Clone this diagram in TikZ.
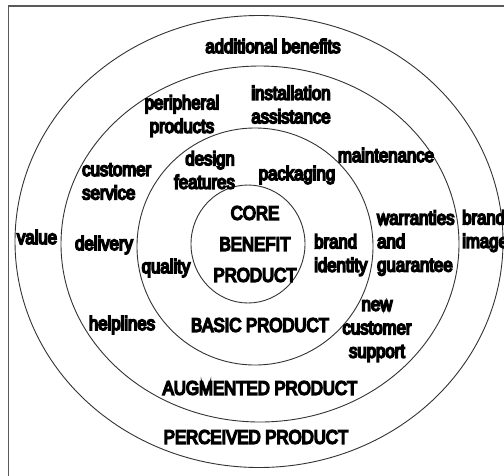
\documentclass[tikz,border=0pt]{standalone}
\usepackage{fontspec}
\setmainfont{Liberation Sans}[FakeStretch=0.86,FakeBold=8]
\usetikzlibrary{shapes.geometric}
\tikzset{
  ring/.style={ellipse, draw=black!80, line width=0.9pt, inner sep=0pt, fill=none},
  lbl/.style={inner sep=0pt, align=center, text=black, font=\fontsize{19.5}{23.5}\selectfont},
  lbll/.style={lbl, align=left},
  lblr/.style={lbl, align=right},
  core/.style={inner sep=0pt, align=center, text=black, font=\fontsize{19.5}{31}\selectfont},
  frame/.style={draw=black!65, line width=1.5pt}
}
\begin{document}
\begin{tikzpicture}[x=1pt,y=-1pt]
\useasboundingbox (0,0) rectangle (504,475);
\clip (0,0) rectangle (504,475);
\fill[white] (0,0) rectangle (504,475);
\draw[frame] (8.5,480) -- (8.5,6) -- (510,6);
% rings
\node[ring, minimum width=488pt, minimum height=452pt] (perceived) at (259,241.5) {};
\node[ring, minimum width=398pt, minimum height=356pt] (augmented) at (260,244) {};
\node[ring, minimum width=236pt, minimum height=237pt] (basic) at (255,246.5) {};
\node[ring, minimum width=114pt, minimum height=118pt] (corering) at (248,244) {};
% labels
\node[lbl] (addben) at (273,46) {additional benefits};
\node[lbl] (periph) at (182,116) {peripheral\\products};
\node[lbl] (install) at (291,104.5) {installation\\assistance};
\node[lbl] (maint) at (386,155) {maintenance};
\node[lbll, anchor=west] (custserv) at (82,181.5) {customer\\service};
\node[lblr, anchor=east] (design) at (235,170) {design\\features};
\node[lbl] (pack) at (297,175) {packaging};
\node[lbl] (value) at (37,237) {value};
\node[lbl] (deliv) at (104,245) {delivery};
\node[lbl] (qual) at (166,268) {quality};
\node[core] (cbp) at (255,244) {CORE\\BENEFIT\\PRODUCT};
\node[lbll, anchor=west] (brandid) at (314,255) {brand\\identity};
\node[lbll, anchor=west] (warr) at (377,243) {warranties\\and\\guarantee};
\node[lbll, anchor=west] (brandim) at (462,231) {brand\\image};
\node[lbl] (help) at (122,325) {helplines};
\node[lbl] (basiclbl) at (260,325) {BASIC PRODUCT};
\node[lbl] (newcs) at (377,331) {new\\customer\\support};
\node[lbl] (auglbl) at (260,388) {AUGMENTED PRODUCT};
\node[lbl] (perclbl) at (256,437) {PERCEIVED PRODUCT};
\end{tikzpicture}
\end{document}
